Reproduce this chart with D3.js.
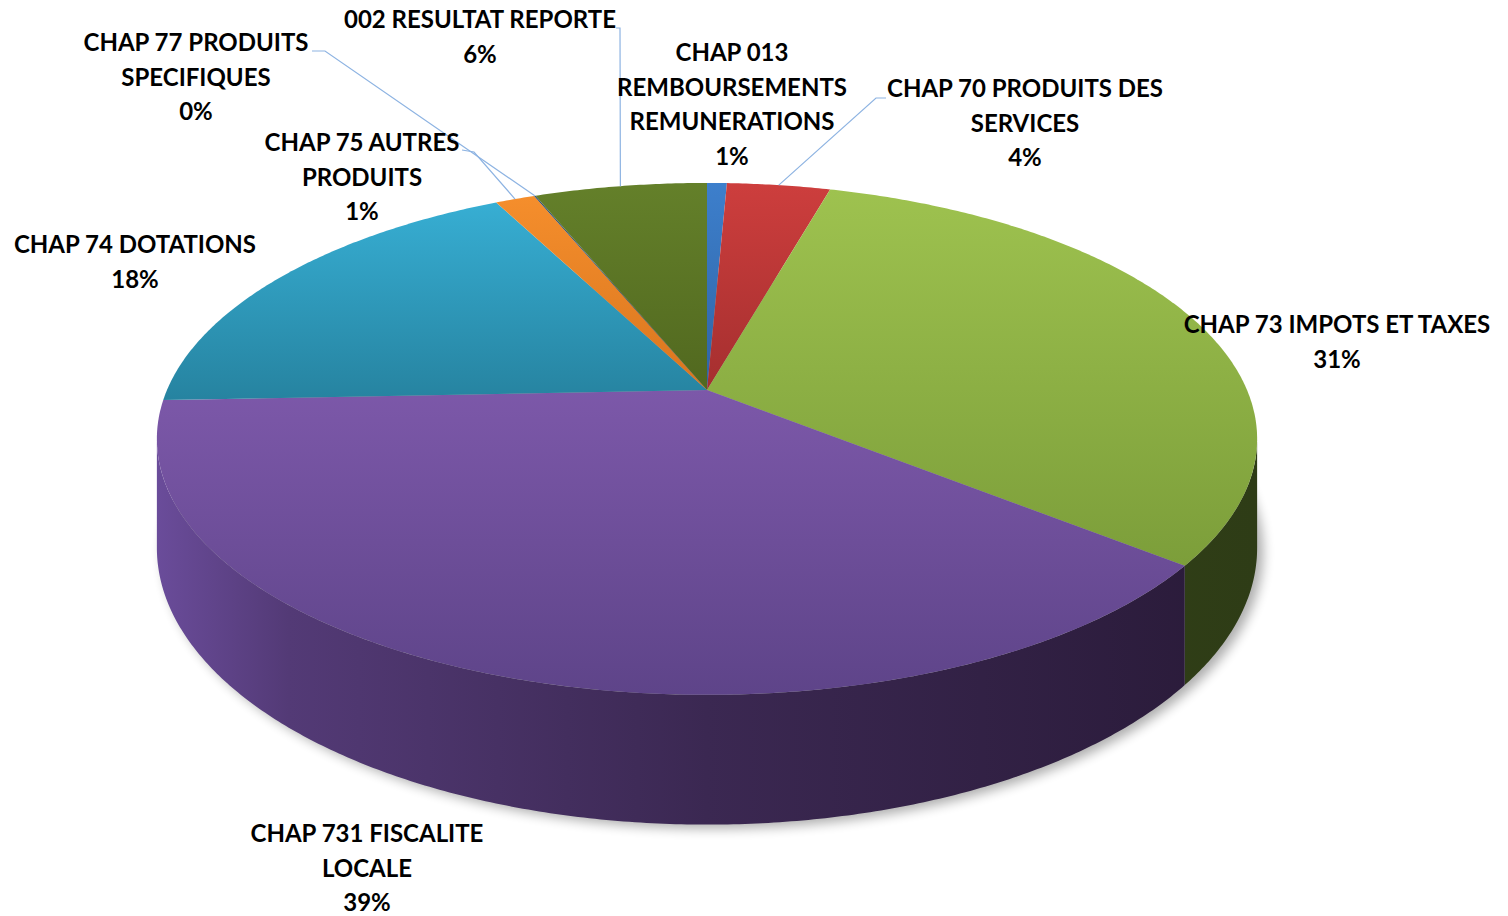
<!DOCTYPE html>
<html><head><meta charset="utf-8">
<script src="https://cdn.jsdelivr.net/npm/d3@7"></script>
<style>body{margin:0;background:#fff}svg{display:block}</style></head>
<body><svg id="chart" width="1508" height="916"></svg>
<script>
// ---- data ----
const categories = ["CHAP 013 REMBOURSEMENTS REMUNERATIONS","CHAP 70 PRODUITS DES SERVICES","CHAP 73 IMPOTS ET TAXES","CHAP 731 FISCALITE LOCALE","CHAP 74 DOTATIONS","CHAP 75 AUTRES PRODUITS","CHAP 77 PRODUITS SPECIFIQUES","002 RESULTAT REPORTE"];
const values = [0.7, 3.65, 31.45, 38.56, 18.1, 1.4, 0.05, 6.1];
const labelLines = [["CHAP 013","REMBOURSEMENTS","REMUNERATIONS"],["CHAP 70 PRODUITS DES","SERVICES"],["CHAP 73 IMPOTS ET TAXES"],["CHAP 731 FISCALITE","LOCALE"],["CHAP 74 DOTATIONS"],["CHAP 75 AUTRES","PRODUITS"],["CHAP 77 PRODUITS","SPECIFIQUES"],["002 RESULTAT REPORTE"]];
const topLight = ["#3d7fcc","#cd3e3d","#9ec24f","#7c58a9","#37aed3","#f58e2c","#2c4d75","#64802a"];
const topDark  = ["#2f64a4","#a52f2f","#7c9e3a","#5e4489","#2683a0","#d9761f","#1f3854","#51681f"];
const wallStops = [
  ["#1f4270","#1a3860","#142a48"],
  ["#6e2020","#5a1a1a","#401212"],
  ["#3e5020","#36461a","#2e3c16"],
  ["#6a4c9a","#3b2852","#291a38"],
  ["#1e6278","#185062","#123c4a"],
  ["#8a4c16","#703e12","#50300e"],
  ["#1a2d45","#15253a","#101c2c"],
  ["#3e5020","#36461a","#2e3c16"]];

// ---- layout ----
const cx = 707, cy = 390, A = 540, B = 246.6, K = -0.191, D = 105;
const labelPos = [[732,53],[1025,89],[1337,325],[367,834],[135,245],[362,143],[196,43],[480,20]];
const leaderPts = {1:[[886,98],[876,98]],5:[[462,150],[474,152]],6:[[312,51],[325,51]],7:[[616,28],[620,28]]};
const lineH = 34.5;

const svg = d3.select("#chart");
const defs = svg.append("defs");

function proj(t){ const u=Math.sin(t), v=-Math.cos(t), w=1+K*v; return [cx+A*u/w, cy+B*v/w]; }
function depth(t){ const v=-Math.cos(t); return D/(1+K*v); }
function arcPts(a0,a1){ const n=Math.max(2,Math.ceil((a1-a0)/(Math.PI/360))); return d3.range(n+1).map(i=>a0+(a1-a0)*i/n); }

const pie = d3.pie().sort(null).value(d=>d)(values);
const total = d3.sum(values);
const fmt = d3.format(".0%");

const tR = Math.acos(K), tL = 2*Math.PI - tR;

// shadow
const flt = defs.append("filter").attr("id","blur").attr("x","-20%").attr("y","-20%").attr("width","140%").attr("height","140%");
flt.append("feGaussianBlur").attr("stdDeviation",6);
svg.append("path").attr("d", d3.line()(arcPts(0,2*Math.PI).map(t=>{const p=proj(t);return [p[0]+6,p[1]+depth(t)+4];})))
  .attr("fill","#000").attr("opacity",0.32).attr("filter","url(#blur)");

// walls
pie.forEach((d,i)=>{
  const a0 = Math.max(d.startAngle,tR), a1 = Math.min(d.endAngle,tL);
  if (a1<=a0) return;
  const gw = defs.append("linearGradient").attr("id","wall"+i).attr("gradientUnits","userSpaceOnUse")
    .attr("x1",cx-A-10).attr("y1",0).attr("x2",cx+A+10).attr("y2",0);
  gw.append("stop").attr("offset",0).attr("stop-color",wallStops[i][0]);
  gw.append("stop").attr("offset",0.12).attr("stop-color",d3.interpolateRgb(wallStops[i][0],wallStops[i][1])(0.5));
  gw.append("stop").attr("offset",0.5).attr("stop-color",wallStops[i][1]);
  gw.append("stop").attr("offset",1).attr("stop-color",wallStops[i][2]);
  const ts = arcPts(a0,a1);
  const top = ts.map(proj);
  const bot = ts.slice().reverse().map(t=>{const p=proj(t);return [p[0],p[1]+depth(t)];});
  svg.append("path").attr("d", d3.line()(top.concat(bot))+"Z").attr("fill","url(#wall"+i+")");
});

// top faces
pie.forEach((d,i)=>{
  if (d.endAngle-d.startAngle<1e-4) return;
  const pts = [[cx,cy]].concat(arcPts(d.startAngle,d.endAngle).map(proj));
  const ys = pts.map(p=>p[1]);
  const g = defs.append("linearGradient").attr("id","top"+i).attr("gradientUnits","userSpaceOnUse")
    .attr("x1",0).attr("y1",d3.min(ys)).attr("x2",0).attr("y2",d3.max(ys));
  g.append("stop").attr("offset",0).attr("stop-color",topLight[i]);
  g.append("stop").attr("offset",1).attr("stop-color",topDark[i]);
  svg.append("path").attr("d", d3.line()(pts)+"Z").attr("fill","url(#top"+i+")");
});

// leader lines
pie.forEach((d,i)=>{
  const lp = leaderPts[i]; if(!lp) return;
  const end = proj((d.startAngle+d.endAngle)/2);
  svg.append("path").attr("d", d3.line()(lp.concat([end]))).attr("fill","none").attr("stroke","#8db3e2").attr("stroke-width",1.2);
});

// labels
pie.forEach((d,i)=>{
  const [x,y] = labelPos[i];
  const lines = labelLines[i].concat([fmt(d.value/total)]);
  const t = svg.append("text").attr("x",x).attr("y",y).attr("text-anchor","middle")
    .attr("font-family","Lato, 'Open Sans', sans-serif").attr("font-weight","bold").attr("font-size",24).attr("fill","#000");
  lines.forEach((s,j)=>t.append("tspan").attr("x",x).attr("y",y+j*lineH).attr("dy","0.35em").text(s));
});
</script></body></html>
